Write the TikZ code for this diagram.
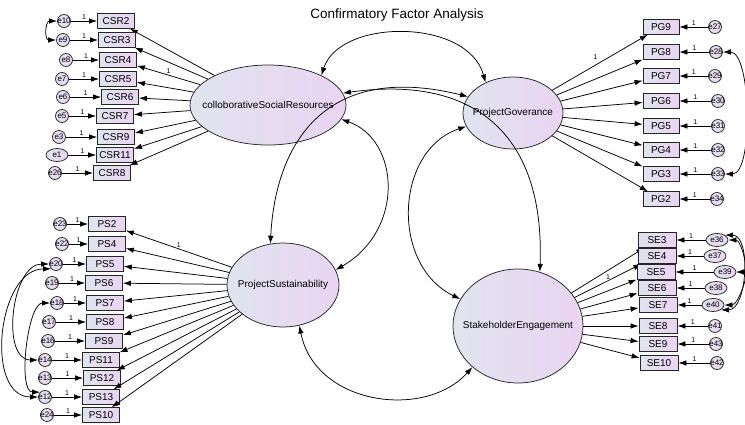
\documentclass[tikz,border=0pt]{standalone}
\usepackage{fontspec}
\setmainfont{Liberation Sans}
\usetikzlibrary{shapes.geometric, arrows.meta}
\definecolor{fillleft}{RGB}{224,228,239}
\definecolor{fillright}{RGB}{234,212,242}
\tikzstyle{block} = [draw=black!85, rectangle, left color=fillleft, right color=fillright,
minimum height=14.5pt, minimum width=37pt, inner sep=0pt, font=\fontsize{10}{10}\selectfont]
\tikzstyle{latent} = [draw=black!85, ellipse, left color=fillleft, right color=fillright,
inner sep=0pt, font=\fontsize{10}{10}\selectfont]
\tikzstyle{err} = [draw=black!85, circle, left color=fillleft, right color=fillright,
minimum size=13pt, inner sep=0pt, font=\fontsize{8}{8}\selectfont]
\tikzstyle{errwide} = [draw=black!85, ellipse, left color=fillleft, right color=fillright,
minimum width=22pt, minimum height=13pt, inner sep=0pt, font=\fontsize{8}{8}\selectfont]
\tikzstyle{one} = [font=\fontsize{7}{7}\selectfont, inner sep=1pt, above]
\tikzstyle{cov} = [<->]

\begin{document}
\begin{tikzpicture}[x=1pt, y=-1pt, >={Latex[length=8pt,width=5.5pt]}, line width=0.75pt]
	\useasboundingbox (0,0) rectangle (745,424);
	% We start with the title and the four latent variables
	\node[font=\fontsize{13.5}{14}\selectfont] (title) at (397,15) {Confirmatory Factor Analysis};
	\node[latent, minimum width=156pt, minimum height=80pt] (CSR) at (268,105) {\makebox[0pt]{colloborativeSocialResources}};
	\node[latent, minimum width=100pt, minimum height=72pt] (PG) at (513,113) {\makebox[0pt]{ProjectGoverance}};
	\node[latent, minimum width=112pt, minimum height=84pt] (PS) at (283,285) {\makebox[0pt]{ProjectSustainability}};
	\node[latent, minimum width=130pt, minimum height=114pt] (SE) at (518,326) {\makebox[0pt]{StakeholderEngagement}};
	
	% Indicators with their error terms: name/error/y/x of box/x of error/style
	\foreach \ind/\err/\y/\xi/\xe/\es in {CSR2/e10/21/116/64/err, CSR3/e9/40/117/63/err,
		CSR4/e8/60/118/66/err, CSR5/e7/79/118/62/err, CSR6/e6/97/120/63/err, CSR7/e5/116/115/62/err,
		CSR9/e3/137/116/59/err, CSR11/e1/155/115/57/errwide, CSR8/e26/173/112/55/err}{
		\node[block] (\ind) at (\xi,\y) {\ind};
		\node[\es] (\err) at (\xe,\y) {\makebox[0pt]{\err}};
		\draw[->] (CSR) -- (\ind);
		\draw[->] (\err) -- node[one] {1} (\ind);
	}
	\foreach \ind/\err/\y/\xi/\xe in {PS2/e23/224/107/60, PS4/e22/244/107/62, PS5/e20/264/105/56,
		PS6/e19/283/104/52, PS7/e18/303/105/57, PS8/e17/322/105/49, PS9/e16/341/104/48,
		PS11/e14/360/101/45, PS12/e13/378/102/45, PS13/e12/397/101/45, PS10/e24/415/101/47}{
		\node[block] (\ind) at (\xi,\y) {\ind};
		\node[err] (\err) at (\xe,\y) {\makebox[0pt]{\err}};
		\draw[->] (PS) -- (\ind);
		\draw[->] (\err) -- node[one] {1} (\ind);
	}
	\foreach \ind/\err/\y/\xe in {PG9/e27/27/715, PG8/e28/52/716, PG7/e29/76/715, PG6/e30/101/718,
		PG5/e31/126/718, PG4/e32/150/718, PG3/e33/174/718, PG2/e34/199/717}{
		\node[block, minimum width=36pt] (\ind) at (661,\y) {\ind};
		\node[err] (\err) at (\xe,\y) {\makebox[0pt]{\err}};
		\draw[->] (PG) -- (\ind);
		\draw[->] (\err) -- node[one] {1} (\ind);
	}
	\foreach \ind/\err/\y/\xi/\xe/\es in {SE3/e36/240/657/717/errwide, SE4/e37/256/657/715/errwide,
		SE5/e39/272/656/725/errwide, SE6/e38/288/657/716/errwide, SE7/e40/305/658/713/errwide,
		SE8/e41/326/658/715/err, SE9/e43/344/658/716/err, SE10/e42/363/659/717/err}{
		\node[block, minimum height=15pt, minimum width=38pt] (\ind) at (\xi,\y) {\ind};
		\node[\es] (\err) at (\xe,\y) {\makebox[0pt]{\err}};
		\draw[->] (SE) -- (\ind);
		\draw[->] (\err) -- node[one] {1} (\ind);
	}
	% fixed loadings
	\path (CSR) -- node[one, pos=0.5] {1} (CSR4);
	\path (PS) -- node[one, pos=0.5] {1} (PS2);
	\path (PG) -- node[one, pos=0.45, above=4pt] {1} (PG9);
	\path (SE) -- node[one, pos=0.5] {1} (SE4);
	
	% Covariances between the latent variables
	\draw[cov] (CSR.29) .. controls (340,18) and (468,18) .. (PG.132);
	\draw[cov] (CSR.9) .. controls (470,75) and (545,130) .. (SE.68);
	\draw[cov] (PS.107) .. controls (275,150) and (320,60) .. (PG.160);
	\draw[cov] (CSR.349) .. controls (400,140) and (405,230) .. (PS.16);
	\draw[cov] (PG.196) .. controls (395,150) and (390,265) .. (SE.155);
	\draw[cov] (PS.292) .. controls (315,405) and (425,420) .. (SE.222);
	
	% Covariances between the error terms
	\draw[cov] (e10.west) to[out=180, in=180, looseness=1.6] (e9.west);
	\draw[cov] (e20.west) to[out=180, in=180, looseness=1] (e14.west);
	\draw[cov] (e20.south west) to[out=180, in=180, looseness=1.07] (e12.west);
	\draw[cov] (e18.west) to[out=180, in=180, looseness=0.65] (e12.north west);
	\draw[cov] (e28.east) to[out=0, in=0, looseness=0.6] (e33.east);
	\draw[cov] (e36.north east) to[out=0, in=0, looseness=0.9] (e40.south east);
	\draw[cov] (e36.east) to[out=0, in=0, looseness=1] (e39.east);
	\draw[cov] (e39.east) to[out=0, in=0, looseness=1] (e40.east);
\end{tikzpicture}
\end{document}
